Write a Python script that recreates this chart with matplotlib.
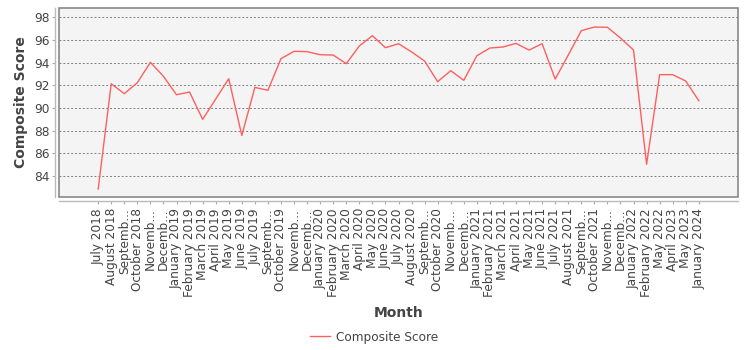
import matplotlib
matplotlib.use("Agg")
import matplotlib.pyplot as plt
from matplotlib.patches import Rectangle

# データ
months = [
    "July 2018", "August 2018", "Septemb...", "October 2018", "Novemb...", "Decemb...",
    "January 2019", "February 2019", "March 2019", "April 2019", "May 2019", "June 2019",
    "July 2019", "Septemb...", "October 2019", "Novemb...", "Decemb...",
    "January 2020", "February 2020", "March 2020", "April 2020", "May 2020", "June 2020",
    "July 2020", "August 2020", "Septemb...", "October 2020", "Novemb...", "Decemb...",
    "January 2021", "February 2021", "March 2021", "April 2021", "May 2021", "June 2021",
    "July 2021", "August 2021", "Septemb...", "October 2021", "Novemb...", "Decemb...",
    "January 2022", "February 2022", "May 2022", "April 2023", "May 2023", "January 2024",
]
scores = [
    82.85, 92.14, 91.26, 92.23, 94.03, 92.79, 91.17, 91.41, 89.0, 90.79, 92.58, 87.58,
    91.82, 91.56, 94.35, 95.0, 94.97, 94.7, 94.67, 93.91, 95.47, 96.38, 95.32,
    95.67, 94.95, 94.14, 92.32, 93.29, 92.44, 94.61, 95.29, 95.38, 95.7, 95.11, 95.67,
    92.55, 94.67, 96.82, 97.14, 97.12, 96.17, 95.11, 85.03, 92.94, 92.94, 92.38, 90.64,
]
yticks = [84, 86, 88, 90, 92, 94, 96, 98]

text_c = "#444444"
fig = plt.figure(figsize=(7.5, 3.5), dpi=100)
ax = fig.add_axes([59 / 750, 1 - 197 / 350, 679 / 750, 189 / 350])
ax.set_facecolor("#f4f4f4")

x = list(range(len(months)))
ax.plot(x, scores, "-", c="#ff5f5f", lw=1.0, label="Composite Score")

ax.set_xlim(-3, len(months) + 2)
ax.set_ylim(82.15, 98.82)
ax.set_yticks(yticks)
ax.set_xticks(x, months)
ax.tick_params(axis="y", labelsize=8.7, labelcolor=text_c, length=2, color="#aaaaaa", width=0.8, pad=2)
ax.tick_params(axis="x", labelsize=8.7, labelcolor=text_c, labelrotation=90,
               length=2, color="#aaaaaa", width=0.8, pad=3)

# グリッド線
ax.grid(axis="y", color="#808080", linestyle=(0, (2, 2)), lw=0.7)
ax.set_axisbelow(True)

# 軸線は少し外側、プロット領域は枠で囲む
for s in ["top", "right"]:
    ax.spines[s].set_visible(False)
for s in ["left", "bottom"]:
    ax.spines[s].set_position(("outward", 3))
    ax.spines[s].set_color("#bbbbbb")
    ax.spines[s].set_linewidth(1.0)
ax.add_patch(Rectangle((0, 0), 1, 1, transform=ax.transAxes, fill=False,
                       ec="#888888", lw=1.2, clip_on=False, zorder=5))

ax.set_xlabel("Month", fontsize=10, fontweight="bold", color=text_c, labelpad=7)
ax.set_ylabel("Composite Score", fontsize=10, fontweight="bold", color=text_c, labelpad=4)

fig.legend(loc="center", bbox_to_anchor=(374 / 750, 1 - 337 / 350), frameon=False,
           fontsize=8.7, labelcolor=text_c, handlelength=1.6, handletextpad=0.5)

fig.savefig("out.png")
